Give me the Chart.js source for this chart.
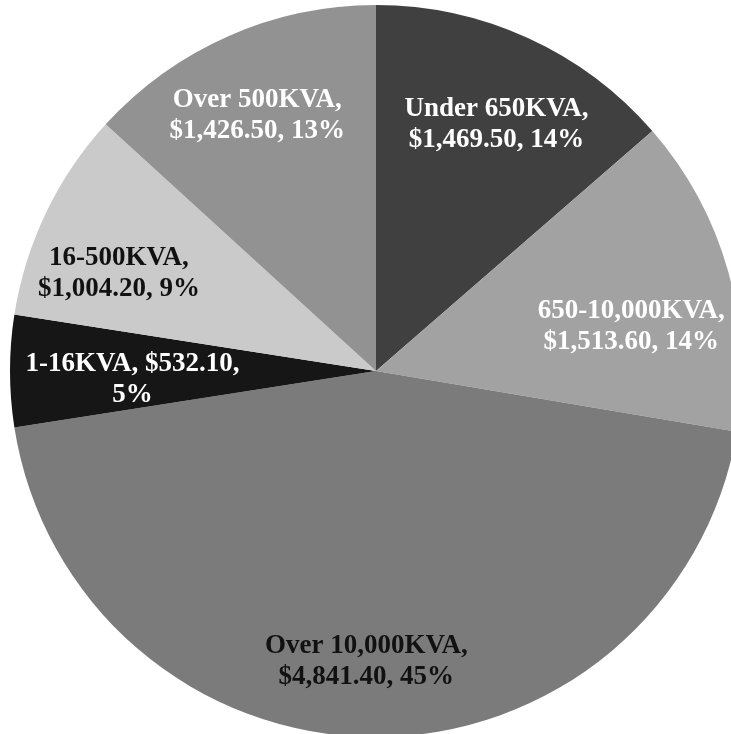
<!DOCTYPE html>
<html>
<head>
<meta charset="utf-8">
<script src="https://cdn.jsdelivr.net/npm/chart.js@4.4.0/dist/chart.umd.min.js"></script>
<style>
  html, body { margin: 0; padding: 0; background: #fff; overflow: hidden; }
  #wrap { position: absolute; left: 0; top: 0; width: 752px; height: 742px; }
</style>
</head>
<body>
<div id="wrap"><canvas id="pie"></canvas></div>
<script>
const categories = ["Under 650KVA", "650-10,000KVA", "Over 10,000KVA", "1-16KVA", "16-500KVA", "Over 500KVA"];
const costs = [1469.50, 1513.60, 4841.40, 532.10, 1004.20, 1426.50];

const sliceColors = ["#404040", "#a2a2a2", "#7b7b7b", "#161616", "#cacaca", "#929292"];
const textColors = ["#ffffff", "#ffffff", "#111111", "#ffffff", "#111111", "#ffffff"];
// where the label wraps (number of comma parts on the first line)
const wrapAt = [1, 1, 1, 2, 1, 1];
const labelRadius = [0.74, 0.77, 0.775, 0.66, 0.77, 0.77];
const labelNudge = [[8, 0], [-16, 32], [-8, 7], [-2, 9], [-3, 24], [-5, 2]];

const total = costs.reduce((a, b) => a + b, 0);
const money = v => "$" + v.toLocaleString("en-US", { minimumFractionDigits: 2, maximumFractionDigits: 2 });

const sliceLabels = {
  id: "sliceLabels",
  afterDatasetsDraw(chart) {
    const ctx = chart.ctx;
    const meta = chart.getDatasetMeta(0);
    ctx.save();
    ctx.font = "bold 27px 'Liberation Serif', 'Times New Roman', serif";
    ctx.textAlign = "center";
    ctx.textBaseline = "middle";
    meta.data.forEach((arc, i) => {
      const p = arc.getProps(["x", "y", "startAngle", "endAngle", "outerRadius"], true);
      const mid = (p.startAngle + p.endAngle) / 2;
      const r = p.outerRadius * labelRadius[i];
      const cx = p.x + Math.cos(mid) * r + labelNudge[i][0];
      const cy = p.y + Math.sin(mid) * r + labelNudge[i][1];
      const parts = [categories[i], money(costs[i]), Math.round(costs[i] / total * 100) + "%"];
      const l1 = parts.slice(0, wrapAt[i]).join(", ") + ",";
      const l2 = parts.slice(wrapAt[i]).join(", ");
      ctx.fillStyle = textColors[i];
      ctx.fillText(l1, cx, cy - 15.5);
      ctx.fillText(l2, cx, cy + 15.5);
    });
    ctx.restore();
  }
};

new Chart(document.getElementById("pie"), {
  type: "pie",
  data: {
    labels: categories,
    datasets: [{
      data: costs,
      backgroundColor: sliceColors,
      borderWidth: 0
    }]
  },
  options: {
    responsive: true,
    maintainAspectRatio: false,
    animation: false,
    layout: { padding: { left: 10, right: 10, top: 5, bottom: 5 } },
    plugins: {
      legend: { display: false },
      tooltip: { enabled: false }
    }
  },
  plugins: [sliceLabels]
});
</script>
</body>
</html>
